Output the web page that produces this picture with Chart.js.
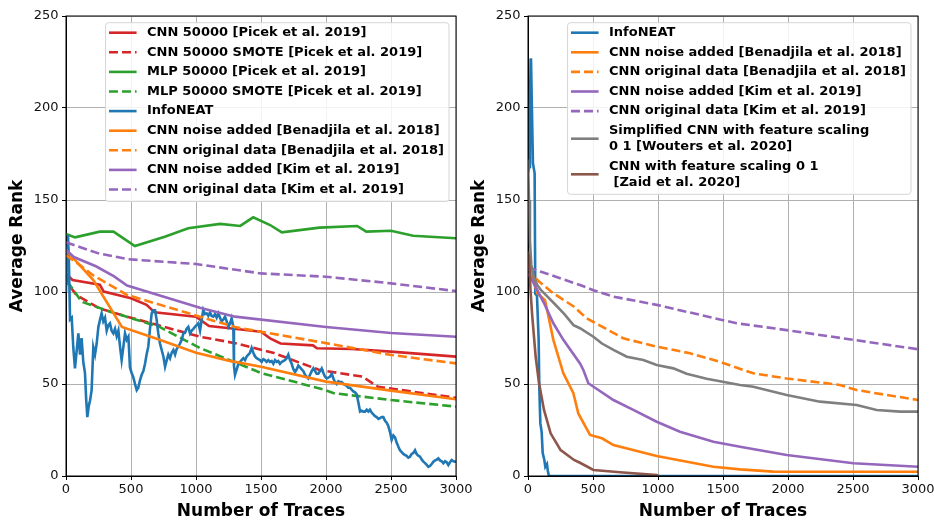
<!DOCTYPE html>
<html>
<head>
<meta charset="utf-8">
<script src="https://cdn.jsdelivr.net/npm/chart.js@4"></script>
<style>
  html, body { margin: 0; padding: 0; background: #fff; }
  #wrap { position: relative; width: 934px; height: 520px; overflow: hidden; }
  canvas { position: absolute; top: 0; }
  #left { left: 0; }
  #right { left: 462px; }
</style>
</head>
<body>
<div id="wrap">
  <canvas id="left" width="480" height="520"></canvas>
  <canvas id="right" width="472" height="520"></canvas>
</div>
<script>
// ---- left panel data (traces, average rank) ----
const picekCnnT = [0, 50, 260, 290, 500, 620, 680, 1000, 1100, 1260, 1500, 1570, 1650, 1900, 1930, 2200, 2500, 3000];
const picekCnnV = [110, 106.5, 104, 100.2, 96.6, 93, 89, 86.6, 81.5, 80.3, 78.4, 74.8, 72, 71, 69.4, 69, 67.6, 64.9];

const picekCnnSmoteT = [0, 30, 80, 260, 470, 1030, 1300, 1600, 1950, 2280, 2400, 3000];
const picekCnnSmoteV = [109, 103, 98.4, 91, 86.6, 75.7, 72.2, 66.8, 57.6, 54, 48.5, 42.5];

const picekMlpT = [0, 70, 260, 365, 530, 760, 940, 1185, 1340, 1440, 1570, 1660, 1950, 2240, 2310, 2500, 2670, 3000];
const picekMlpV = [131.5, 129.7, 132.8, 132.8, 125, 130, 134.6, 137, 135.9, 140.6, 136.4, 132.4, 135, 135.9, 132.8, 133.3, 130.6, 129.2];

const picekMlpSmoteT = [0, 30, 120, 340, 720, 1030, 1500, 1980, 2060, 2500, 3000];
const picekMlpSmoteV = [105, 103.8, 94.7, 89.3, 81, 69.6, 56, 47, 45, 41.3, 37.7];

const infoNeatLT = [0, 8, 15, 22, 31, 44, 56, 69, 82, 95, 108, 120, 133, 146, 155, 164, 175, 185, 197, 210, 223, 236, 249, 262, 274, 287, 300, 313, 326, 338, 351, 364, 377, 390, 403, 416, 428, 441, 454, 467, 480, 492, 505, 518, 531, 544, 556, 569, 582, 595, 608, 620, 633, 646, 659, 672, 685, 697, 710, 723, 736, 749, 762, 775, 787, 800, 813, 826, 839, 851, 864, 877, 890, 903, 916, 928, 941, 954, 967, 980, 992, 1005, 1018, 1031, 1044, 1056, 1069, 1082, 1095, 1108, 1120, 1133, 1146, 1159, 1172, 1185, 1197, 1210, 1223, 1236, 1249, 1262, 1274, 1287, 1292, 1300, 1313, 1326, 1339, 1351, 1364, 1377, 1390, 1403, 1415, 1428, 1441, 1454, 1467, 1479, 1492, 1505, 1518, 1530, 1543, 1556, 1569, 1582, 1595, 1608, 1620, 1633, 1646, 1659, 1672, 1685, 1697, 1710, 1723, 1736, 1749, 1762, 1775, 1787, 1800, 1813, 1826, 1839, 1851, 1864, 1877, 1890, 1903, 1916, 1928, 1941, 1954, 1967, 1980, 1992, 2005, 2018, 2031, 2044, 2057, 2069, 2082, 2095, 2108, 2121, 2134, 2146, 2159, 2172, 2185, 2197, 2210, 2223, 2236, 2249, 2262, 2275, 2287, 2300, 2313, 2326, 2338, 2351, 2364, 2377, 2390, 2403, 2415, 2428, 2441, 2454, 2467, 2480, 2492, 2505, 2518, 2531, 2544, 2556, 2569, 2582, 2595, 2608, 2620, 2633, 2646, 2659, 2672, 2685, 2697, 2710, 2723, 2736, 2749, 2762, 2775, 2787, 2800, 2813, 2826, 2839, 2851, 2864, 2877, 2890, 2903, 2916, 2928, 2941, 2954, 2967, 2980, 2992, 3000];
const infoNeatLV = [100, 125, 131, 118, 85, 86, 70, 58.5, 68, 77.5, 66, 75, 62, 56, 42, 32, 38, 41, 46.5, 70, 66, 72, 81, 85, 88.4, 84, 86, 79, 82, 83, 79, 77.5, 80, 76, 79, 70, 63, 70, 77.5, 74, 75.7, 59, 56, 53.6, 50, 46.7, 48, 52, 55, 57, 61, 66, 70.3, 80, 88.4, 90, 90, 85, 77.5, 72, 68.5, 65, 59.4, 63, 66, 64, 67, 68.5, 66, 69, 70.3, 72, 74, 77.5, 78, 80, 81, 77.5, 79, 80, 81, 82, 83, 79, 85, 90.2, 88, 88.4, 87, 89, 87, 86.6, 88, 86, 88.4, 86, 84, 85, 86.6, 84, 81, 83, 85.7, 81, 60, 55, 58, 61, 62, 63, 64, 63, 65, 66, 67, 69.6, 67, 65, 64, 63.5, 63, 62, 63.5, 63, 62, 63, 62, 62.5, 61, 63, 62, 62.5, 61, 62, 62.5, 63, 64, 66, 63, 61, 58, 56.5, 58, 60, 59, 58, 57, 55, 54, 53, 55, 57, 58.5, 57, 55.6, 55.6, 57, 58.5, 56, 54, 53, 53.5, 54, 55.6, 53, 51, 50, 51.5, 51, 51, 50, 49.5, 49, 48, 48, 47, 46, 45.5, 44.4, 40, 35, 35.5, 35, 35, 36, 35, 36, 34.5, 33.5, 32.5, 32, 31, 31.5, 32, 32, 30, 29, 27, 24, 19.6, 22, 21, 18, 16, 14, 13, 12, 11.4, 11, 10, 10.5, 12, 12.5, 14, 12, 11, 10.5, 9, 7.8, 7, 6, 5, 5.5, 6.5, 7.8, 8.5, 8.8, 9.6, 8.5, 8, 6.9, 8, 7.5, 6, 7.5, 8.7, 8, 7.8, 8];

const benNoiseLT = [0, 210, 430, 720, 1000, 1250, 1500, 2000, 2500, 3000];
const benNoiseLV = [122.8, 106.5, 81, 74, 67, 62.7, 59.4, 51.3, 46.4, 41.7];

const benOrigLT = [0, 100, 210, 470, 1030, 1300, 1500, 2000, 2500, 3000];
const benOrigLV = [120, 115, 109, 98.4, 86.6, 81, 78.4, 72.2, 65.8, 61.2];

const kimNoiseLT = [0, 60, 230, 370, 470, 1030, 1300, 2000, 2500, 3000];
const kimNoiseLV = [123, 119, 114, 108.5, 103.5, 91.5, 86.6, 81, 77.7, 75.7];

const kimOrigLT = [0, 250, 480, 1000, 1500, 2000, 2500, 3000];
const kimOrigLV = [127, 121, 117.8, 115.2, 110.1, 108.3, 104.7, 100.5];

// ---- right panel data ----
const infoNeatRT = [0, 10, 15, 20, 23, 30, 38, 51, 56, 69, 82, 87, 95, 105, 113, 125, 133, 146, 152, 159, 170, 3000];
const infoNeatRV = [165, 168, 200, 226, 227, 200, 170, 164.5, 99, 98, 74, 48, 28.6, 24, 12.5, 9, 5, 6.5, 3, 0.5, 0, 0];

const benNoiseRT = [0, 8, 72, 131, 195, 272, 349, 387, 477, 569, 657, 990, 1426, 1631, 1887, 3000];
const benNoiseRV = [115, 113.8, 99.3, 95.6, 74, 55.8, 45, 34, 22.3, 20.5, 16.8, 10.9, 5, 3.6, 2.4, 2.3];

const benOrigRT = [0, 72, 195, 354, 451, 734, 990, 1246, 1477, 1733, 1990, 2400, 2528, 3000];
const benOrigRV = [113, 106.5, 99.3, 92, 85.7, 74.8, 70.3, 66.7, 62, 55.8, 53, 49.5, 46.7, 41.3];

const kimNoiseRT = [0, 20, 123, 195, 272, 400, 426, 464, 657, 810, 990, 1169, 1426, 1631, 1990, 2503, 3000];
const kimNoiseRV = [110, 108, 94, 83, 74, 61.2, 57.6, 50.4, 41.3, 35.9, 29.5, 24.1, 18.6, 15.9, 11.4, 6.9, 5];

const kimOrigRT = [0, 20, 100, 400, 503, 657, 990, 1605, 1990, 2503, 3000];
const kimOrigRV = [112, 112.9, 111, 103.8, 101, 97.5, 93, 83, 79.3, 74, 68.9];

const woutersT = [0, 8, 15, 25, 45, 70, 100, 150, 200, 280, 350, 400, 503, 569, 657, 760, 887, 990, 1118, 1220, 1374, 1631, 1733, 1990, 2246, 2528, 2682, 2862, 3000];
const woutersV = [172, 150, 128, 115, 108, 104, 101, 97.5, 93.9, 88, 82, 80.3, 75.7, 72, 68.5, 64.8, 63, 60.3, 58.5, 55.6, 52.9, 49.5, 48.5, 44, 40.4, 38.6, 35.9, 35, 35];

const zaidT = [0, 8, 20, 33, 59, 85, 123, 174, 251, 354, 400, 503, 708, 990, 1000];
const zaidV = [122, 119, 100, 86.6, 64.8, 50.4, 35.9, 23.2, 14.1, 8.7, 7.2, 3.3, 2, 0.5, 0];

const xTicks = [0, 500, 1000, 1500, 2000, 2500, 3000];
const yTicks = [0, 50, 100, 150, 200, 250];

const C = {
  blue: '#1f77b4', orange: '#ff7f0e', green: '#2ca02c', red: '#d62728',
  purple: '#9467bd', brown: '#8c564b', gray: '#7f7f7f'
};
const FONT = '"DejaVu Sans", sans-serif';

function pts(t, v) {
  return t.map((x, i) => ({ x: x, y: v[i] }));
}

function series(label, t, v, color, dashed) {
  return {
    label: label,
    data: pts(t, v),
    borderColor: color,
    backgroundColor: color,
    borderWidth: 2.6,
    borderDash: dashed ? [9, 4] : [],
    pointRadius: 0,
    tension: 0,
    fill: false
  };
}

// matplotlib-like box: all four spines
const frame = {
  id: 'frame',
  afterDatasetsDraw(chart) {
    const a = chart.chartArea, ctx = chart.ctx;
    ctx.save();
    ctx.strokeStyle = '#000';
    ctx.lineWidth = 1;
    ctx.strokeRect(a.left, a.top, a.right - a.left, a.bottom - a.top);
    ctx.restore();
  }
};

// legend in the upper right corner of the plot area
const boxLegend = {
  id: 'boxLegend',
  afterDraw(chart) {
    const ctx = chart.ctx, a = chart.chartArea;
    ctx.save();
    ctx.font = 'bold 13px ' + FONT;
    const items = chart.data.datasets.map(d => ({
      lines: d.label.split('\n'), color: d.borderColor, dash: d.borderDash
    }));
    let w = 0;
    items.forEach(it => it.lines.forEach(l => { w = Math.max(w, ctx.measureText(l).width); }));
    const right = a.right - 7;
    const left = right - (41.4 + w + 5);
    const top = a.top + 6.7;
    let y = top + 10;
    const rows = [];
    items.forEach(it => {
      const ys = it.lines.map((_, k) => y + k * 16);
      rows.push(ys);
      y = ys[ys.length - 1] + 19.6;
    });
    const last = rows[rows.length - 1];
    const bottom = last[last.length - 1] + 12;

    ctx.beginPath();
    ctx.roundRect(left, top, right - left, bottom - top, 3);
    ctx.fillStyle = 'rgba(255,255,255,0.85)';
    ctx.fill();
    ctx.strokeStyle = '#d5d5d5';
    ctx.lineWidth = 1;
    ctx.stroke();

    ctx.textBaseline = 'middle';
    ctx.fillStyle = '#000';
    items.forEach((it, i) => {
      const ys = rows[i];
      const mid = (ys[0] + ys[ys.length - 1]) / 2;
      ctx.beginPath();
      ctx.setLineDash(it.dash || []);
      ctx.strokeStyle = it.color;
      ctx.lineWidth = 2.6;
      ctx.moveTo(left + 3.4, mid);
      ctx.lineTo(left + 31, mid);
      ctx.stroke();
      ctx.setLineDash([]);
      it.lines.forEach((l, k) => ctx.fillText(l, left + 41.4, ys[k]));
    });
    ctx.restore();
  }
};

function makeChart(id, datasets, rightPad) {
  const n = datasets.length;
  datasets.forEach((d, i) => { d.order = n - i; });
  return new Chart(document.getElementById(id), {
    type: 'line',
    data: { datasets: datasets },
    options: {
      responsive: false,
      animation: false,
      layout: { padding: { top: 16, right: rightPad, left: 0, bottom: 0 } },
      plugins: { legend: { display: false }, tooltip: { enabled: false } },
      scales: {
        x: {
          type: 'linear', min: 0, max: 3000,
          afterBuildTicks: s => { s.ticks = xTicks.map(v => ({ value: v })); },
          afterFit: s => { s.height = 44; s.paddingLeft = 0; s.paddingRight = 0; },
          ticks: { color: '#111', font: { family: FONT, size: 13 }, padding: 2, maxRotation: 0,
                   callback: v => String(v) },
          grid: { color: '#b0b0b0', lineWidth: 1, tickColor: '#000', tickLength: 4 },
          border: { color: '#000', width: 1 },
          title: { display: true, text: 'Number of Traces', color: '#000',
                   font: { family: FONT, size: 17, weight: 'bold', lineHeight: 1 },
                   padding: { top: 0.5, bottom: 0 } }
        },
        y: {
          type: 'linear', min: 0, max: 250,
          afterBuildTicks: s => { s.ticks = yTicks.map(v => ({ value: v })); },
          afterFit: s => { s.width = 66; s.paddingTop = 0; s.paddingBottom = 0; },
          ticks: { color: '#111', font: { family: FONT, size: 13 }, padding: 3.5,
                   callback: v => String(v) },
          grid: { color: '#b0b0b0', lineWidth: 1, tickColor: '#000', tickLength: 4 },
          border: { color: '#000', width: 1 },
          title: { display: true, text: 'Average Rank', color: '#000',
                   font: { family: FONT, size: 17, weight: 'bold', lineHeight: 1 },
                   padding: { top: 9.5, bottom: 0 } }
        }
      }
    },
    plugins: [frame, boxLegend]
  });
}

makeChart('left', [
  series('CNN 50000 [Picek et al. 2019]', picekCnnT, picekCnnV, C.red, false),
  series('CNN 50000 SMOTE [Picek et al. 2019]', picekCnnSmoteT, picekCnnSmoteV, C.red, true),
  series('MLP 50000 [Picek et al. 2019]', picekMlpT, picekMlpV, C.green, false),
  series('MLP 50000 SMOTE [Picek et al. 2019]', picekMlpSmoteT, picekMlpSmoteV, C.green, true),
  series('InfoNEAT', infoNeatLT, infoNeatLV, C.blue, false),
  series('CNN noise added [Benadjila et al. 2018]', benNoiseLT, benNoiseLV, C.orange, false),
  series('CNN original data [Benadjila et al. 2018]', benOrigLT, benOrigLV, C.orange, true),
  series('CNN noise added [Kim et al. 2019]', kimNoiseLT, kimNoiseLV, C.purple, false),
  series('CNN original data [Kim et al. 2019]', kimOrigLT, kimOrigLV, C.purple, true)
], 24);

makeChart('right', [
  series('InfoNEAT', infoNeatRT, infoNeatRV, C.blue, false),
  series('CNN noise added [Benadjila et al. 2018]', benNoiseRT, benNoiseRV, C.orange, false),
  series('CNN original data [Benadjila et al. 2018]', benOrigRT, benOrigRV, C.orange, true),
  series('CNN noise added [Kim et al. 2019]', kimNoiseRT, kimNoiseRV, C.purple, false),
  series('CNN original data [Kim et al. 2019]', kimOrigRT, kimOrigRV, C.purple, true),
  series('Simplified CNN with feature scaling\n0 1 [Wouters et al. 2020]', woutersT, woutersV, C.gray, false),
  series('CNN with feature scaling 0 1\n [Zaid et al. 2020]', zaidT, zaidV, C.brown, false)
], 16);
</script>
</body>
</html>
